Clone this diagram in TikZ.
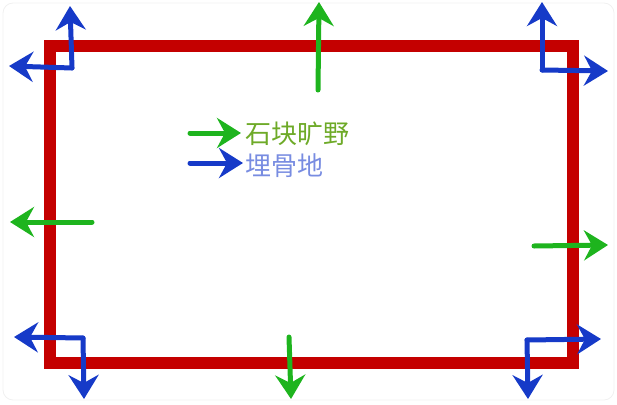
\documentclass[tikz,border=0pt]{standalone}
\usepackage{fontspec}
\newfontfamily\cjk{Noto Sans CJK SC}
\usetikzlibrary{arrows.meta}
\definecolor{rred}{RGB}{196,0,0}
\definecolor{bblue}{RGB}{22,58,200}
\definecolor{ggreen}{RGB}{30,180,30}
\definecolor{tgreen}{RGB}{110,170,40}
\definecolor{tblue}{RGB}{120,140,225}
\tikzset{
  arr/.style={line width=5pt, line cap=round, line join=round,
    -{Stealth[length=24pt,width=30pt,inset=8pt]}},
  barr/.style={arr, draw=bblue, fill=bblue},
  garr/.style={arr, draw=ggreen, fill=ggreen},
  lbl/.style={font=\cjk\fontsize{26pt}{28pt}\selectfont, anchor=west, inner sep=0pt}
}
\begin{document}
\begin{tikzpicture}[x=1pt,y=-1pt]
\useasboundingbox (0,0) rectangle (617,404);
\draw[gray!12, line width=0.8pt, rounded corners=10pt] (3,3) rectangle (614,400);
% red frame
\draw[rred, line width=12pt] (50,46) rectangle (573,363);
% corner coordinates
\coordinate (tlc) at (72,68); \coordinate (tlu) at (70,6); \coordinate (tll) at (9,66);
\coordinate (trc) at (542,70); \coordinate (tru) at (542,2); \coordinate (trr) at (608,71);
\coordinate (blc) at (83,338); \coordinate (bll) at (14,337); \coordinate (bld) at (84,399);
\coordinate (brc) at (527,340); \coordinate (brr) at (601,339); \coordinate (brd) at (528,399);
% blue corner arrows
\draw[barr] (tlc) -- (tlu);
\draw[barr] (tlc) -- (tll);
\draw[barr] (trc) -- (tru);
\draw[barr] (trc) -- (trr);
\draw[barr] (blc) -- (bll);
\draw[barr] (blc) -- (bld);
\draw[barr] (brc) -- (brr);
\draw[barr] (brc) -- (brd);
% green mid arrows
\coordinate (tms) at (318,90); \coordinate (tme) at (319,2);
\coordinate (lms) at (92,222); \coordinate (lme) at (10,222);
\coordinate (rms) at (534,246); \coordinate (rme) at (608,245);
\coordinate (bms) at (289,337); \coordinate (bme) at (291,399);
\draw[garr] (tms) -- (tme);
\draw[garr] (lms) -- (lme);
\draw[garr] (rms) -- (rme);
\draw[garr] (bms) -- (bme);
% legend
\coordinate (g1) at (190,133); \coordinate (g2) at (241,133);
\coordinate (b1) at (190,163); \coordinate (b2) at (243,163);
\draw[garr] (g1) -- (g2);
\draw[barr] (b1) -- (b2);
\node[lbl, text=tgreen] (t1) at (245,134) {石块旷野};
\node[lbl, text=tblue] (t2) at (245,166) {埋骨地};
\end{tikzpicture}
\end{document}
